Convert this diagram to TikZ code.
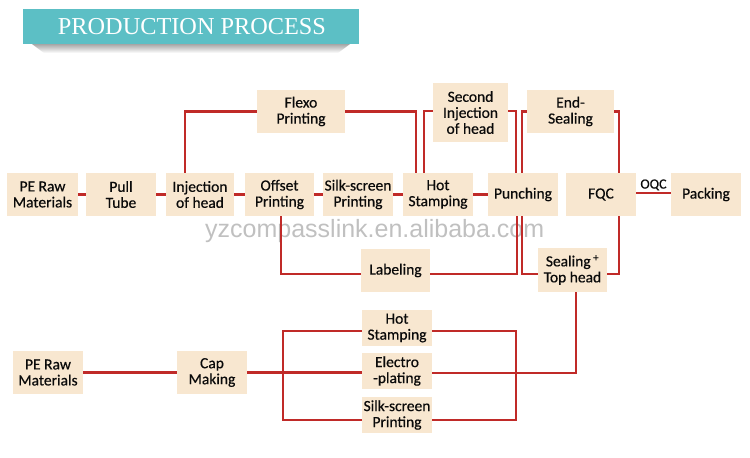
\documentclass[tikz,border=0pt]{standalone}
\usepackage{fontspec}
\setmainfont{Carlito}
\newfontfamily\boxfont{Carlito}[FakeBold=0.5]
\newfontfamily\titlefont{Liberation Serif}
\newfontfamily\wmfont{Liberation Sans}
\definecolor{boxfill}{RGB}{248,231,208}
\definecolor{linered}{RGB}{192,42,40}
\definecolor{banner}{RGB}{92,191,197}
\definecolor{wmgray}{RGB}{192,192,192}
\definecolor{txt}{RGB}{10,10,10}
\begin{document}
\begin{tikzpicture}[x=1pt,y=-1pt,
  box/.style={fill=boxfill, inner sep=0pt, align=center, text=txt,
    font=\boxfont\fontsize{15.5}{16}\selectfont, minimum width=70pt, minimum height=43pt},
  conn/.style={draw=linered, line width=2.2pt}]
\useasboundingbox (0,0) rectangle (750,458);
% title banner
\shade[top color=black!35, bottom color=white] (32,44) -- (350,44) -- (338,53) -- (44,53) -- cycle;
\fill[banner] (23,9) rectangle (359,44);
\node[text=white, inner sep=0pt, font=\titlefont\fontsize{24.3}{24}\selectfont] (title) at (192,26.5) {PRODUCTION PROCESS};
% watermark
\node[anchor=base west, inner sep=0pt, text=wmgray, font=\wmfont\fontsize{25}{25}\selectfont] (wm) at (205,237) {yzcompasslink.en.alibaba.com};
% top row
\node[box, minimum width=71pt] (raw1) at (42.5,194.5) {PE Raw\\Materials};
\node[box] (pull) at (121,194.5) {Pull\\Tube};
\node[box, minimum width=68pt] (inj) at (200,194.5) {Injection\\of head};
\node[box, minimum width=69pt] (offset) at (279.5,194.5) {Offset\\Printing};
\node[box] (silk1) at (358,194.5) {Silk-screen\\Printing};
\node[box] (hot1) at (438,194.5) {Hot\\Stamping};
\node[box] (punch) at (523,194.5) {Punching};
\node[box] (fqc) at (601,194.5) {FQC};
\node[box] (pack) at (706,194.5) {Packing};
\node[box, minimum width=88pt] (flexo) at (301,111.5) {Flexo\\Printing};
\node[box, minimum width=75pt, minimum height=59pt] (secinj) at (470.5,112.5) {Second\\Injection\\of head};
\node[box, minimum width=87pt] (endseal) at (570.5,111.5) {End-\\Sealing};
\node[box, minimum width=69pt] (label) at (395.5,270.5) {Labeling};
\node[box, minimum width=69pt, minimum height=44pt] (seal) at (572.5,270) {Sealing\,\textsuperscript{+}\\Top head};
% bottom
\node[box] (raw2) at (48,372.5) {PE Raw\\Materials};
\node[box] (cap) at (212,372.5) {Cap\\Making};
\node[box, minimum height=36pt] (hot2) at (397,328) {Hot\\Stamping};
\node[box, minimum height=36pt] (electro) at (397,371) {Electro\\-plating};
\node[box, minimum height=36pt] (silk2) at (397,415) {Silk-screen\\Printing};
% connectors top row
\draw[conn] (raw1) -- (pull);
\draw[conn] (pull) -- (inj);
\draw[conn] (inj) -- (offset);
\draw[conn] (offset) -- (silk1);
\draw[conn] (silk1) -- (hot1);
\draw[conn] (hot1) -- (punch);
\draw[conn] ([yshift=1.5pt]fqc.east) -- node[above=1.5pt, inner sep=0pt, text=txt, font=\boxfont\fontsize{14}{14}\selectfont] (oqc) {OQC} ([yshift=1.5pt]pack.west);
% upper branches
\draw[conn] ([xshift=-15pt]inj.north) |- (flexo.west);
\draw[conn] (flexo.east) -| ([xshift=-22pt]hot1.north);
\draw[conn] ([xshift=-14pt]hot1.north) |- ([yshift=1.5pt]secinj.west);
\draw[conn] ([yshift=1.5pt]secinj.east) -| ([xshift=-7pt]punch.north);
\draw[conn] ([xshift=-1pt]punch.north) |- (endseal.west);
\draw[conn] (endseal.east) -| ([xshift=18pt]fqc.north);
% lower branches
\draw[conn] ([xshift=-6pt]punch.south) |- ([yshift=-3.5pt]label.east);
\draw[conn] ([yshift=-3.5pt]label.west) -| ([xshift=1.5pt]offset.south);
\draw[conn] ([xshift=-1pt]punch.south) |- ([yshift=-4pt]seal.west);
\draw[conn] ([yshift=-4pt]seal.east) -| ([xshift=18pt]fqc.south);
\draw[conn] ([xshift=3.5pt]seal.south) |- ([yshift=-2pt]electro.east);
% bottom connectors
\draw[conn] (raw2) -- (cap);
\draw[conn] (cap.east) -- ([yshift=-1.5pt]electro.west);
\draw[conn] ([yshift=-3pt]hot2.west) -- ++(-79,0) coordinate (lt) |- ([yshift=-5pt]silk2.west);
\draw[conn] ([yshift=-3pt]hot2.east) -- ++(84,0) coordinate (rt) |- ([yshift=-5pt]silk2.east);
\end{tikzpicture}
\end{document}
